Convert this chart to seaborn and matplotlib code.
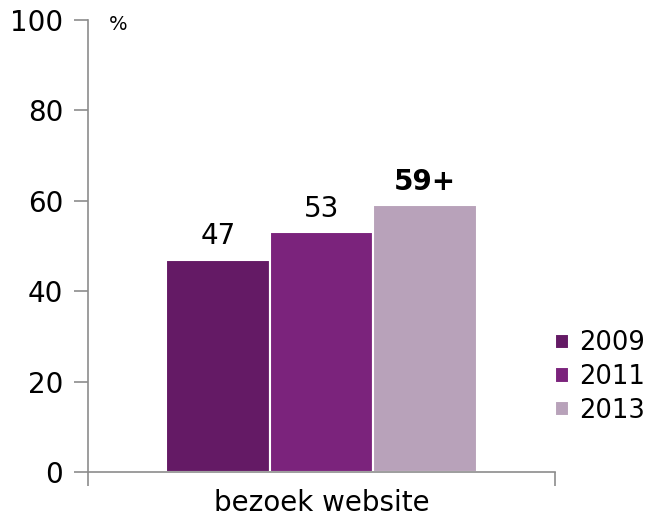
import matplotlib
matplotlib.use("Agg")
import matplotlib.pyplot as plt
import seaborn as sns
import pandas as pd

categories = ["bezoek website"]
years = ["2009", "2011", "2013"]
values = [47, 53, 59]
labels = ["47", "53", "59+"]
colors = ["#641a65", "#7b237c", "#b8a2ba"]

df = pd.DataFrame({"cat": categories * 3, "year": years, "value": values})

sns.set_theme(style="white")
plt.rcParams["font.family"] = ["DejaVu Sans"]
plt.rcParams["text.color"] = "black"
plt.rcParams["xtick.labelcolor"] = "black"
plt.rcParams["ytick.labelcolor"] = "black"

fig = plt.figure(figsize=(6.46, 5.19), dpi=100)
ax = fig.add_axes([88/646, 1 - 472/519, (555-88)/646, (472-20)/519])

sns.barplot(data=df, x="cat", y="value", hue="year", palette=colors,
            width=0.665, dodge=True, ax=ax, edgecolor="white", linewidth=1.5,
            saturation=1)

ax.set_ylim(0, 100)
ax.set_xlim(-0.5, 0.5)
ax.set_yticks([0, 20, 40, 60, 80, 100])
ax.tick_params(axis="y", labelsize=20, length=10, width=1.2, color="#8c8c8c",
               left=True, pad=8, labelcolor="black")
ax.set_xticks([0])
ax.set_xticklabels(categories, fontsize=20)
ax.tick_params(axis="x", length=0, pad=12, labelcolor="black")
ax.set_xticks([-0.5, 0.5], minor=True)
ax.tick_params(axis="x", which="minor", length=10, width=1.2, color="#8c8c8c", bottom=True)
ax.set_xlabel("")
ax.set_ylabel("")
for s in ["top", "right"]:
    ax.spines[s].set_visible(False)
for s in ["left", "bottom"]:
    ax.spines[s].set_color("#8c8c8c")
    ax.spines[s].set_linewidth(1.2)

for i, cont in enumerate(ax.containers):
    ax.bar_label(cont, labels=[labels[i]], padding=7, fontsize=20, color="black",
                 fontweight="bold" if i == 2 else "normal")

ax.text(0.045, 0.99, "%", transform=ax.transAxes, fontsize=14, va="center", ha="left")

leg = ax.legend(loc="center left", bbox_to_anchor=(1.0, 0.21), frameon=False,
                fontsize=18.5, handlelength=0.55, handleheight=0.55, handletextpad=0.4,
                labelspacing=0.3, borderaxespad=0, borderpad=0)
for t in leg.get_texts():
    t.set_color("black")

fig.savefig("out.png", dpi=100)
